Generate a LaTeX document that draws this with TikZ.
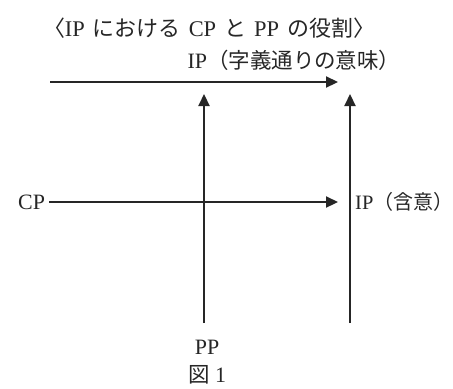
\documentclass[tikz,border=0pt]{standalone}
\usepackage{fontspec}
\setmainfont{Liberation Serif}
\newfontfamily\jp{Noto Sans CJK JP}[Scale=0.98]
\usetikzlibrary{arrows.meta}
\newcommand{\gap}{\hspace{8bp}}
\tikzset{
  lbl/.style={inner sep=0pt, font=\fontsize{22}{26}\selectfont, text=black!85},
  arr/.style={line width=2.2bp, draw=black!85, -{Triangle[length=12bp,width=11bp]}}
}
\begin{document}
\begin{tikzpicture}[x=1bp,y=-1bp]
\useasboundingbox (0,0) rectangle (453,388);
\node[lbl, font=\fontsize{22.5}{26}\selectfont] (title) at (209,28) {\jp〈\rmfamily IP\gap\jp における\gap\rmfamily CP\gap\jp と\gap\rmfamily PP\gap\jp の役割〉};
\node[lbl] (ipl) at (294,60) {IP\jp（字義通りの意味）};
\node[lbl, anchor=west] (cp) at (18,202) {CP};
\node[lbl, anchor=west, font=\fontsize{20.5}{24}\selectfont] (ipi) at (355,202) {IP\jp（含意）};
\node[lbl] (pp) at (207,347) {PP};
\node[lbl] (fig) at (207,375) {\jp 図\rmfamily\ 1};
\coordinate (ts) at (50,82);
\coordinate (te) at (338,82);
\coordinate (lb) at (204,323);
\coordinate (lt) at (204,94);
\coordinate (rb) at (350,323);
\coordinate (rt) at (350,94);
\coordinate (me) at (338,202);
\draw[arr] (ts) -- (te);
\draw[arr] (lb) -- (lt);
\draw[arr] (rb) -- (rt);
\draw[arr] (cp.east) ++(4,0) -- (me);
\end{tikzpicture}
\end{document}
